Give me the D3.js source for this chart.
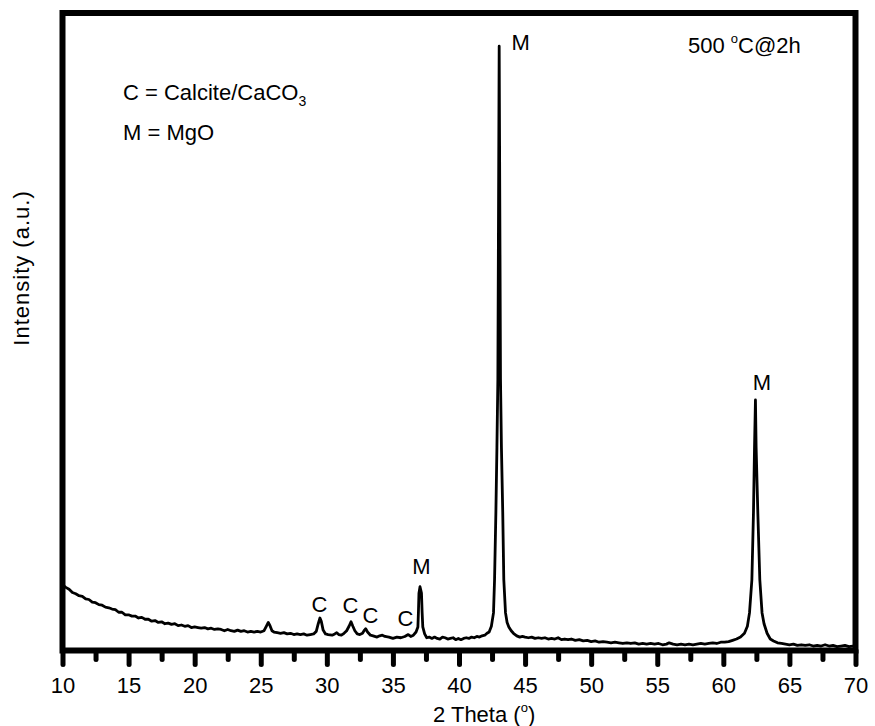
<!DOCTYPE html>
<html>
<head>
<meta charset="utf-8">
<script src="https://cdn.jsdelivr.net/npm/d3@7/dist/d3.min.js"></script>
<style>
  html, body { margin: 0; padding: 0; background: #fff; }
  svg { display: block; }
  text { font-family: "Liberation Sans", Arial, Helvetica, sans-serif; fill: #000; }
</style>
</head>
<body>
<svg id="chart" width="875" height="726"></svg>
<script>
// ---- data ----
const scan = [
[10.00,103],[10.25,99],[10.50,96],[10.75,91],[11.00,89],[11.25,86],[11.50,85],[11.75,81],[12.00,80],[12.25,76],
[12.50,75],[12.75,72],[13.00,71],[13.25,68],[13.50,67],[13.75,65],[14.00,64],[14.25,60],[14.50,60],[14.75,56],
[15.00,56],[15.25,54],[15.50,54],[15.75,51],[16.00,52],[16.25,49],[16.50,49],[16.75,46],[17.00,47],[17.25,44],
[17.50,45],[17.75,42],[18.00,43],[18.25,41],[18.50,42],[18.75,39],[19.00,40],[19.25,38],[19.50,39],[19.75,36],
[20.00,37],[20.25,36],[20.50,35],[20.75,36],[21.00,34],[21.25,35],[21.50,33],[21.75,34],[22.00,33],[22.25,31],
[22.50,33],[22.75,31],[23.00,30],[23.25,32],[23.50,30],[23.75,31],[24.00,29],[24.25,30],[24.50,29],[24.75,30],
[25.00,29],[25.25,31],[25.42,38],[25.57,44],[25.70,39],[25.85,31],[26.00,29],[26.25,28],[26.50,27],[26.75,28],
[27.00,26],[27.25,27],[27.50,25],[27.75,26],[28.00,25],[28.25,26],[28.50,24],[28.75,25],[29.00,26],[29.20,30],
[29.35,42],[29.48,51],[29.58,46],[29.72,32],[29.90,26],[30.10,25],[30.40,24],[30.60,26],[30.75,28],[30.90,25],
[31.10,24],[31.30,27],[31.50,31],[31.68,38],[31.83,45],[31.97,38],[32.12,31],[32.30,26],[32.50,25],[32.70,27],
[32.85,32],[32.94,34],[33.08,29],[33.30,24],[33.50,23],[33.80,21],[34.00,23],[34.20,24],[34.40,22],[34.70,21],
[35.00,19],[35.30,21],[35.60,20],[35.90,22],[36.16,25],[36.35,22],[36.55,24],[36.75,29],[36.89,37],[36.93,60],
[36.97,90],[37.05,100],[37.16,90],[37.21,60],[37.26,37],[37.40,26],[37.56,20],[37.75,21],[37.95,19],[38.15,21],
[38.35,19],[38.55,18],[38.75,21],[38.95,20],[39.15,18],[39.35,19],[39.55,20],[39.75,17],[39.95,19],[40.15,17],
[40.35,19],[40.55,20],[40.75,19],[40.95,21],[41.15,20],[41.35,22],[41.55,21],[41.75,23],[41.95,24],[42.12,27],
[42.28,29],[42.45,38],[42.61,59],[42.69,111],[42.79,216],[42.87,319],[42.94,425],[43.04,948],[43.14,425],[43.21,319],
[43.31,216],[43.39,111],[43.52,59],[43.64,44],[43.77,37],[43.95,31],[44.12,27],[44.37,23],[44.60,21],[44.80,22],
[45.00,21],[45.25,20],[45.50,21],[45.75,19],[46.00,20],[46.25,19],[46.50,20],[46.75,18],[47.00,19],[47.25,18],
[47.50,20],[47.75,17],[48.00,18],[48.25,17],[48.50,18],[48.80,16],[49.10,17],[49.40,15],[49.70,16],[50.00,14],
[50.30,15],[50.60,13],[50.90,14],[51.20,13],[51.50,12],[51.80,13],[52.10,12],[52.40,11],[52.70,12],[53.00,11],
[53.30,12],[53.60,10],[53.90,11],[54.20,10],[54.50,11],[54.80,10],[55.10,11],[55.40,9],[55.70,10],[55.90,12],
[56.20,10],[56.50,9],[56.80,10],[57.10,9],[57.40,10],[57.70,9],[58.00,10],[58.30,11],[58.60,10],[58.90,11],
[59.20,12],[59.50,11],[59.80,13],[60.10,13],[60.40,14],[60.70,16],[61.00,18],[61.30,21],[61.60,27],[61.82,38],
[61.98,59],[62.16,111],[62.28,216],[62.36,319],[62.43,393],[62.48,319],[62.61,216],[62.76,111],[62.93,59],[63.08,42],
[63.31,27],[63.55,18],[63.80,15],[64.10,12],[64.40,11],[64.70,10],[65.00,9],[65.30,10],[65.60,8],[65.90,9],
[66.20,8],[66.50,9],[66.80,7],[67.10,8],[67.40,7],[67.70,9],[68.00,7],[68.30,8],[68.60,6],[68.90,7],
[69.20,8],[69.50,6],[69.80,7],[70.00,7]
];

const majorTicks = [10, 15, 20, 25, 30, 35, 40, 45, 50, 55, 60, 65, 70];
const minorTicks = [12.5, 17.5, 22.5, 27.5, 32.5, 37.5, 42.5, 47.5, 52.5, 57.5, 62.5, 67.5];

const peakLabelText = ["C", "C", "C", "C", "M", "M", "M"];
const peakLabelTheta = [29.44, 31.79, 33.30, 35.95, 37.16, 44.67, 62.92];
const peakLabelIntensity = [60, 59, 43, 38, 120, 942, 409];

const xTitle = "2 Theta (";
const yTitle = "Intensity (a.u.)";
const legendLine1 = "C = Calcite/CaCO";
const legendLine2 = "M = MgO";
const conditionText = ["500 ", "C@2h"];

// ---- layout ----
const W = 875, H = 726;
const mLeft = 62.5, mRight = 855.5, mTop = 13, mBottom = 650.5;

const svg = d3.select("#chart");
svg.append("rect").attr("width", W).attr("height", H).attr("fill", "#fff");

const x = d3.scaleLinear().domain([10, 70]).range([mLeft, mRight]);
const y = d3.scaleLinear().domain([0, 1000]).range([mBottom, mTop]);

// clip
svg.append("clipPath").attr("id", "plotclip")
  .append("rect").attr("x", mLeft).attr("y", mTop).attr("width", mRight - mLeft).attr("height", mBottom - mTop);

// line
const line = d3.line().x(d => x(d[0])).y(d => y(d[1]));
svg.append("path")
  .datum(scan)
  .attr("clip-path", "url(#plotclip)")
  .attr("d", line)
  .attr("fill", "none")
  .attr("stroke", "#000")
  .attr("stroke-width", 2.8)
  .attr("stroke-linejoin", "round");

// minor ticks
svg.append("g")
  .attr("transform", `translate(0,${mBottom})`)
  .call(d3.axisBottom(x).tickValues(minorTicks).tickSize(9).tickFormat(""))
  .call(g => g.select(".domain").remove())
  .call(g => g.selectAll(".tick line").attr("stroke", "#000").attr("stroke-width", 5).attr("stroke-linecap", "round"));

// major ticks
svg.append("g")
  .attr("transform", `translate(0,${mBottom})`)
  .call(d3.axisBottom(x).tickValues(majorTicks).tickSize(14).tickSizeOuter(0).tickPadding(12.5).tickFormat(d3.format("d")))
  .call(g => g.select(".domain").remove())
  .call(g => g.selectAll(".tick line").attr("stroke", "#000").attr("stroke-width", 5).attr("stroke-linecap", "round"))
  .call(g => g.selectAll(".tick text").attr("font-size", 22).attr("fill", "#000")
        .style("font-family", "'Liberation Sans', Arial, sans-serif"));

// frame
svg.append("rect")
  .attr("x", mLeft).attr("y", mTop)
  .attr("width", mRight - mLeft).attr("height", mBottom - mTop)
  .attr("fill", "none").attr("stroke", "#000").attr("stroke-width", 6);

// peak labels
svg.append("g").selectAll("text")
  .data(peakLabelText)
  .join("text")
  .attr("x", (d, i) => x(peakLabelTheta[i]))
  .attr("y", (d, i) => y(peakLabelIntensity[i]))
  .attr("text-anchor", "middle")
  .attr("font-size", 22)
  .text(d => d);

// legend text
const lg = svg.append("text").attr("x", 123).attr("y", 100).attr("font-size", 22);
lg.append("tspan").text(legendLine1);
lg.append("tspan").attr("font-size", 14).attr("dy", 6).text("3");
svg.append("text").attr("x", 123).attr("y", 140).attr("font-size", 22).text(legendLine2);

// condition text
const ct = svg.append("text").attr("x", 688).attr("y", 53).attr("font-size", 22);
ct.append("tspan").text(conditionText[0]);
ct.append("tspan").attr("font-size", 13).attr("dy", -10).text("o");
ct.append("tspan").attr("dy", 10).text(conditionText[1]);

// x title
const xt = svg.append("text").attr("x", 433).attr("y", 722).attr("font-size", 22);
xt.append("tspan").text(xTitle);
xt.append("tspan").attr("font-size", 13).attr("dy", -10).text("o");
xt.append("tspan").attr("dy", 10).text(")");

// y title
svg.append("text")
  .attr("transform", `translate(29,268) rotate(-90)`)
  .attr("text-anchor", "middle")
  .attr("font-size", 22)
  .attr("letter-spacing", 1)
  .text(yTitle);
</script>
</body>
</html>
